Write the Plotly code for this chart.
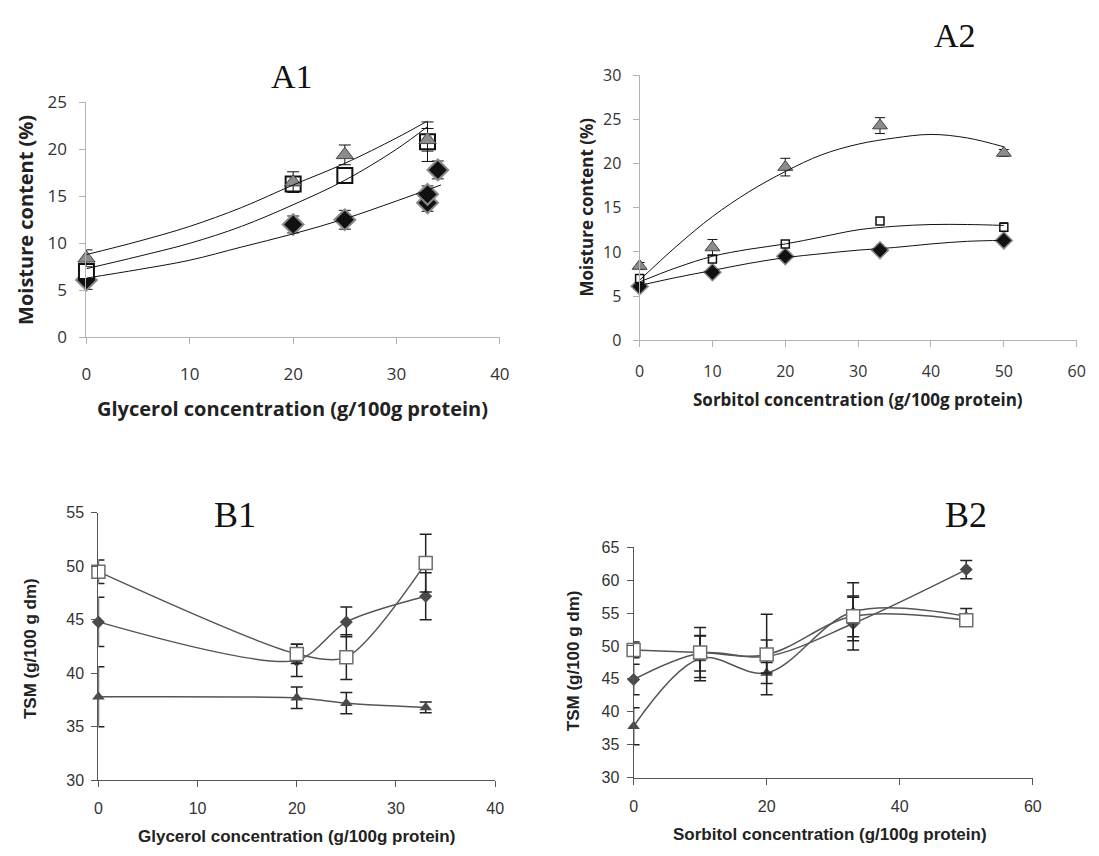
import plotly.graph_objects as go

W, H = 1099, 856

# ---------------- DATA ----------------
# A1: moisture content vs glycerol
gly_x = [0, 20, 25, 33]
a1_tri = [8.4, 16.5, 19.4, 21.0]
a1_tri_err = [0.9, 1.1, 1.05, 1.2]
a1_sq = [7.0, 16.3, 17.2, 20.8]
a1_sq_err = [0.5, 0.5, 0.5, 2.1]
a1_dia_x = [0, 20, 25, 33, 33, 34]
a1_dia = [6.1, 12.0, 12.5, 14.3, 15.2, 17.8]
a1_dia_err = [1.0, 0.9, 1.0, 0.9, 0.9, 0.95]
# A1 fitted curves
a1_fit_x = [0, 5, 10, 15, 20, 25, 30, 33]
a1_fit_tri = [8.8, 10.2, 11.8, 13.8, 16.2, 18.5, 21.2, 23.0]
a1_fit_sq = [7.3, 8.6, 10.0, 11.8, 14.1, 16.7, 20.0, 22.4]
a1_fit_dia_x = [0, 5, 10, 15, 20, 25, 30, 34.3]
a1_fit_dia = [6.3, 7.2, 8.2, 9.6, 11.0, 12.6, 14.5, 16.2]

# A2: moisture content vs sorbitol
sor_x = [0, 10, 20, 33, 50]
a2_tri = [8.4, 10.5, 19.6, 24.3, 21.2]
a2_tri_err = [0.4, 0.9, 1.0, 0.9, 0.4]
a2_sq = [7.0, 9.2, 10.9, 13.5, 12.8]
a2_sq_err = [0.4, 0.3, 0.3, 0.3, 0.5]
a2_dia = [6.1, 7.7, 9.5, 10.2, 11.3]
a2_dia_err = [0.4, 0.3, 0.3, 0.6, 0.5]
a2_fit_x = [0, 5, 10, 15, 20, 25, 30, 35, 40, 45, 50]
a2_fit_tri = [6.8, 10.6, 14.0, 16.8, 19.1, 21.0, 22.2, 22.9, 23.3, 22.9, 21.9]
a2_fit_sq = [6.6, 8.2, 9.5, 10.3, 10.9, 11.7, 12.5, 12.9, 13.1, 13.1, 13.0]
a2_fit_dia = [6.2, 7.1, 7.9, 8.7, 9.35, 9.8, 10.2, 10.5, 10.9, 11.2, 11.3]

# B1: TSM vs glycerol
b1_sq = [49.5, 41.8, 41.5, 50.3]
b1_sq_err = [1.1, 0.9, 2.1, 2.7]
b1_dia = [44.8, 41.2, 44.8, 47.2]
b1_dia_err = [2.3, 1.5, 1.4, 2.2]
b1_tri = [37.8, 37.7, 37.2, 36.8]
b1_tri_err = [2.8, 1.0, 1.0, 0.5]

# B2: TSM vs sorbitol
b2_sq = [49.4, 49.0, 48.7, 54.5, 53.9]
b2_sq_err = [1.2, 3.8, 6.1, 3.1, 0.8]
b2_dia = [44.9, 48.9, 48.4, 53.4, 61.6]
b2_dia_err = [2.3, 2.7, 2.5, 4.0, 1.4]
b2_tri = [37.8, 48.1, 45.9, 55.2, 54.5]
b2_tri_err = [2.8, 3.4, 1.6, 4.4, 1.2]

# ---------------- STYLE / LAYOUT HELPERS ----------------
def dom_x(x0, x1):
    return [x0 / W, x1 / W]

def dom_y(top, bottom):
    return [1 - bottom / H, 1 - top / H]

fig = go.Figure()

SANS_A = "Open Sans"
SANS_B = "Liberation Sans"
SERIF = "Liberation Serif"

# ---- A1 ----
fig.add_trace(go.Scatter(x=a1_dia_x, y=a1_dia, mode="markers", xaxis="x", yaxis="y",
    marker=dict(symbol="diamond", size=16, color="#111111", line=dict(color="#8a8a8a", width=2)),
    error_y=dict(type="data", array=a1_dia_err, color="#111111", thickness=1, width=6), cliponaxis=False))
fig.add_trace(go.Scatter(x=gly_x, y=a1_sq, mode="markers", xaxis="x", yaxis="y",
    marker=dict(symbol="square", size=15, color="white", line=dict(color="#111111", width=2)),
    error_y=dict(type="data", array=a1_sq_err, color="#111111", thickness=1, width=6), cliponaxis=False))
fig.add_trace(go.Scatter(x=gly_x, y=a1_tri, mode="markers", xaxis="x", yaxis="y",
    marker=dict(symbol="triangle-up", size=15, color="#8c8c8c", line=dict(color="#444444", width=1)),
    error_y=dict(type="data", array=a1_tri_err, color="#111111", thickness=1, width=6), cliponaxis=False))
for fx, fy in [(a1_fit_x, a1_fit_tri), (a1_fit_x, a1_fit_sq), (a1_fit_dia_x, a1_fit_dia)]:
    fig.add_trace(go.Scatter(x=fx, y=fy, mode="lines", xaxis="x", yaxis="y",
        line=dict(color="#111111", width=1, shape="spline"), cliponaxis=False))

# ---- A2 ----
fig.add_trace(go.Scatter(x=sor_x, y=a2_dia, mode="markers", xaxis="x2", yaxis="y2",
    marker=dict(symbol="diamond", size=13, color="#111111", line=dict(color="#8a8a8a", width=1.5)),
    error_y=dict(type="data", array=a2_dia_err, color="#111111", thickness=1, width=4), cliponaxis=False))
fig.add_trace(go.Scatter(x=sor_x, y=a2_sq, mode="markers", xaxis="x2", yaxis="y2",
    marker=dict(symbol="square", size=8, color="white", line=dict(color="#111111", width=1.5)),
    error_y=dict(type="data", array=a2_sq_err, color="#111111", thickness=1, width=4), cliponaxis=False))
fig.add_trace(go.Scatter(x=sor_x, y=a2_tri, mode="markers", xaxis="x2", yaxis="y2",
    marker=dict(symbol="triangle-up", size=13, color="#8c8c8c", line=dict(color="#444444", width=1)),
    error_y=dict(type="data", array=a2_tri_err, color="#111111", thickness=1, width=5), cliponaxis=False))
for fy in [a2_fit_tri, a2_fit_sq, a2_fit_dia]:
    fig.add_trace(go.Scatter(x=a2_fit_x, y=fy, mode="lines", xaxis="x2", yaxis="y2",
        line=dict(color="#111111", width=1, shape="spline"), cliponaxis=False))

# ---- B1 / B2 ----
LINE_B = "#555555"
ERR_B = "#222222"
def add_b(xv, yv, err, kind, xa, ya, smooth):
    if kind == "sq":
        mk = dict(symbol="square", size=13, color="white", line=dict(color="#6e6e6e", width=1.5))
    elif kind == "dia":
        mk = dict(symbol="diamond", size=10, color="#4a4a4a", line=dict(color="#4a4a4a", width=0))
    else:
        mk = dict(symbol="triangle-up", size=11, color="#4a4a4a", line=dict(color="#4a4a4a", width=0))
    fig.add_trace(go.Scatter(x=xv, y=yv, mode="lines+markers", xaxis=xa, yaxis=ya,
        line=dict(color=LINE_B, width=1.5, shape="spline", smoothing=smooth), marker=mk,
        error_y=dict(type="data", array=err, color=ERR_B, thickness=1.5, width=6), cliponaxis=False))

add_b(gly_x, b1_tri, b1_tri_err, "tri", "x3", "y3", 0.6)
add_b(gly_x, b1_dia, b1_dia_err, "dia", "x3", "y3", 0.8)
add_b(gly_x, b1_sq, b1_sq_err, "sq", "x3", "y3", 0.8)
add_b(sor_x, b2_tri, b2_tri_err, "tri", "x4", "y4", 1.0)
add_b(sor_x, b2_dia, b2_dia_err, "dia", "x4", "y4", 1.0)
add_b(sor_x, b2_sq, b2_sq_err, "sq", "x4", "y4", 1.0)

# ---------------- AXES ----------------
def axis_a(domain, rng, dtick, size, standoff, anchor):
    return dict(domain=domain, range=rng, dtick=dtick, tick0=0, anchor=anchor,
                showgrid=False, zeroline=False, showline=True, linecolor="#b3b3b3", linewidth=1,
                ticks="outside", ticklen=6, tickcolor="#b3b3b3", tickwidth=1,
                tickfont=dict(family=SANS_A, size=size, color="#333333"),
                ticklabelstandoff=standoff, fixedrange=True)

def axis_b(domain, rng, dtick, standoff, anchor):
    return dict(domain=domain, range=rng, dtick=dtick, tick0=0, anchor=anchor,
                showgrid=False, zeroline=False, showline=True, linecolor="#555555", linewidth=1.2,
                ticks="outside", ticklen=6, tickcolor="#555555", tickwidth=1.2,
                tickfont=dict(family=SANS_B, size=16, color="#333333"),
                ticklabelstandoff=standoff, fixedrange=True)

fig.update_layout(
    width=W, height=H, margin=dict(l=0, r=0, t=0, b=0),
    paper_bgcolor="white", plot_bgcolor="white", showlegend=False,
    xaxis=axis_a(dom_x(82.6, 501.7), [0, 40], 10, 17, 15, "y"),
    yaxis=axis_a(dom_y(92.7, 334.3), [0, 25], 5, 17, 9, "x"),
    xaxis2=axis_a(dom_x(643.4, 1086.5), [0, 60], 10, 16, 11, "y2"),
    yaxis2=axis_a(dom_y(65, 337.3), [0, 30], 5, 16, 8, "x2"),
    xaxis3=axis_b(dom_x(94.7, 496.9), [0, 40], 10, 8, "y3"),
    yaxis3=axis_b(dom_y(514.7, 789.3), [30, 55], 5, 4, "x3"),
    xaxis4=axis_b(dom_x(637.3, 1042), [0, 60], 20, 8, "y4"),
    yaxis4=axis_b(dom_y(550, 786.7), [30, 65], 5, 4, "x4"),
)

def ann(text, px, py, family, size, bold=False, angle=0, color="#222222"):
    t = f"<b>{text}</b>" if bold else text
    fig.add_annotation(text=t, x=px / W, y=1 - py / H, xref="paper", yref="paper",
                       xanchor="center", yanchor="middle", showarrow=False, textangle=angle,
                       font=dict(family=family, size=size, color=color))

# panel titles
ann("A1", 291, 66, SERIF, 34, color="#111111")
ann("A2", 963, 24, SERIF, 34, color="#111111")
ann("B1", 233, 517, SERIF, 36, color="#111111")
ann("B2", 974, 517, SERIF, 36, color="#111111")

# axis titles
ann("Glycerol concentration (g/100g protein)", 291, 407, SANS_A, 20, bold=True)
ann("Moisture content (%)", 21, 214, SANS_A, 20, bold=True, angle=-90)
ann("Sorbitol concentration (g/100g protein)", 865, 398, SANS_A, 17, bold=True)
ann("Moisture content (%)", 590, 200, SANS_A, 17, bold=True, angle=-90)
ann("Glycerol concentration (g/100g protein)", 296, 847, SANS_B, 17, bold=True)
ann("TSM (g/100 g dm)", 26, 654, SANS_B, 17, bold=True, angle=-90)
ann("Sorbitol concentration (g/100g protein)", 836, 845, SANS_B, 17, bold=True)
ann("TSM (g/100 g dm)", 576, 667, SANS_B, 17, bold=True, angle=-90)

fig.write_html("out.html", config={"displayModeBar": False},
               post_script="document.body.style.margin='0';document.body.style.overflow='hidden';")
